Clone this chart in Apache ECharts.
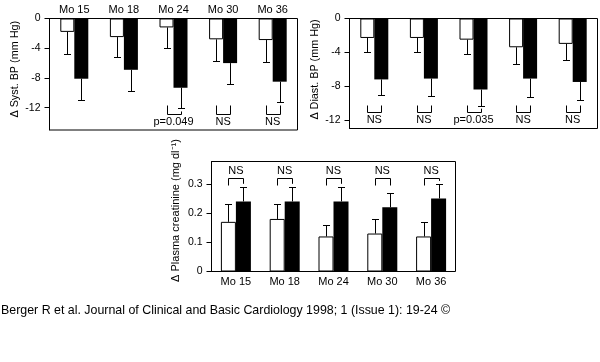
<!DOCTYPE html>
<html><head><meta charset="utf-8">
<script src="https://cdn.jsdelivr.net/npm/echarts@6/dist/echarts.min.js"></script>
<style>html,body{margin:0;padding:0;background:#fff}#c{width:600px;height:362px}</style>
</head><body><div id="c"></div>
<script>
const categories = ['Mo 15','Mo 18','Mo 24','Mo 30','Mo 36'];

const sysWhite    = [-1.8, -2.5, -1.2, -2.8, -2.9];
const sysWhiteErr = [-4.8, -5.2, -4.0, -5.7, -5.8];
const sysBlack    = [-8.1, -6.9, -9.3, -6.0, -8.5];
const sysBlackErr = [-10.9, -9.7, -12.1, -8.8, -11.3];
const sysSig      = ['', '', 'p=0.049', 'NS', 'NS'];
const sysTicks    = [0, -4, -8, -12];

const diaWhite    = [-2.3, -2.3, -2.5, -3.4, -3.0];
const diaWhiteErr = [-4.0, -4.0, -4.2, -5.4, -4.9];
const diaBlack    = [-7.2, -7.1, -8.4, -7.1, -7.5];
const diaBlackErr = [-9.0, -9.1, -10.3, -9.3, -9.6];
const diaSig      = ['NS', 'NS', 'p=0.035', 'NS', 'NS'];
const diaTicks    = [0, -4, -8, -12];

const creWhite    = [0.17, 0.18, 0.12, 0.13, 0.12];
const creWhiteErr = [0.23, 0.23, 0.16, 0.18, 0.17];
const creBlack    = [0.24, 0.24, 0.24, 0.22, 0.25];
const creBlackErr = [0.29, 0.29, 0.29, 0.27, 0.30];
const creSig      = ['NS', 'NS', 'NS', 'NS', 'NS'];
const creTicks    = [0, 0.1, 0.2, 0.3];

const footer = 'Berger R et al. Journal of Clinical and Basic Cardiology 1998; 1 (Issue 1): 19-24 \u00a9';

const FONT = 'Liberation Sans, Arial, Helvetica, sans-serif';

function errSeries(idx, vals, errs, side, bw) {
  return {
    type: 'custom', xAxisIndex: idx, yAxisIndex: idx, z: 5, silent: true,
    data: vals.map((v, i) => [i, v, errs[i]]),
    renderItem: (params, api) => {
      const p0 = api.coord([api.value(0), api.value(1)]);
      const p1 = api.coord([api.value(0), api.value(2)]);
      const x = Math.round(p0[0] + side * bw / 2) + 0.5;
      const yc = Math.round(p1[1]) + 0.5;
      const st = { stroke: '#000', lineWidth: 1 };
      return { type: 'group', children: [
        { type: 'line', shape: { x1: x, y1: p0[1], x2: x, y2: yc }, style: st },
        { type: 'line', shape: { x1: x - 3.5, y1: yc, x2: x + 3.5, y2: yc }, style: st }
      ]};
    }
  };
}

// dir = 1: bracket under bars, legs pointing up; dir = -1: bracket above bars, legs pointing down
function sigSeries(idx, labels, level, dir, wErr, bErr, bw, legLen, textOff) {
  return {
    type: 'custom', xAxisIndex: idx, yAxisIndex: idx, z: 6, silent: true,
    data: labels.map((l, i) => [i, level]),
    renderItem: (params, api) => {
      const i = params.dataIndex;
      const lab = labels[i];
      if (!lab) return null;
      const c = api.coord([i, level]);
      const y = Math.round(c[1]) + 0.5;
      const xw = Math.round(c[0] - bw / 2) + 0.5;
      const xb = Math.round(c[0] + bw / 2) + 0.5;
      const ew = api.coord([i, wErr[i]])[1];
      const eb = api.coord([i, bErr[i]])[1];
      let tw, tb;
      if (dir === 1) {
        tw = Math.max(y - legLen, ew + 3);
        tb = Math.max(y - legLen, eb + 3);
      } else {
        tw = Math.min(y + legLen, ew - 3);
        tb = Math.min(y + legLen, eb - 3);
      }
      const st = { stroke: '#000', lineWidth: 1 };
      return { type: 'group', children: [
        { type: 'line', shape: { x1: xw, y1: y, x2: xb, y2: y }, style: st },
        { type: 'line', shape: { x1: xw, y1: y, x2: xw, y2: tw }, style: st },
        { type: 'line', shape: { x1: xb, y1: y, x2: xb, y2: tb }, style: st },
        { type: 'text', x: c[0], y: y + dir * textOff,
          style: { text: lab, align: 'center', verticalAlign: 'middle',
                   fill: '#000', fontSize: 11, fontFamily: FONT } }
      ]};
    }
  };
}

function yAx(idx, min, max, ticks, name, gap, nameSize, shiftUp) {
  return {
    type: 'value', gridIndex: idx, min: min, max: max,
    name: name, nameLocation: 'middle', nameGap: gap, nameRotate: 90,
    nameTextStyle: { fontSize: nameSize, color: '#000', fontFamily: FONT, padding: [0, 0, 0, shiftUp * 2] },
    axisLine: { show: true, lineStyle: { color: '#000', width: 1 } },
    axisTick: { show: true, length: 5, customValues: ticks, lineStyle: { color: '#000' } },
    axisLabel: { customValues: ticks, margin: 9, fontSize: 10.5, color: '#000', fontFamily: FONT },
    splitLine: { show: false }
  };
}

function xAx(idx, pos, showLabel, margin) {
  return {
    type: 'category', gridIndex: idx, data: categories, position: pos,
    axisLine: { show: false, onZero: false }, axisTick: { show: false },
    axisLabel: { show: showLabel, margin: margin, fontSize: 11, color: '#000', fontFamily: FONT },
    splitLine: { show: false }
  };
}

function bars(idx, white, black, bw) {
  return [
    { type: 'bar', xAxisIndex: idx, yAxisIndex: idx, data: white, barWidth: bw, barGap: '0%',
      itemStyle: { color: '#fff', borderColor: '#000', borderWidth: 1 }, silent: true },
    { type: 'bar', xAxisIndex: idx, yAxisIndex: idx, data: black, barWidth: bw, barGap: '0%',
      itemStyle: { color: '#000' }, silent: true }
  ];
}

const chart = echarts.init(document.getElementById('c'));
const gridStyle = { show: true, borderColor: '#000', borderWidth: 1, backgroundColor: 'transparent' };
chart.setOption({
  animation: false,
  backgroundColor: '#fff',
  textStyle: { fontFamily: FONT },
  title: { text: footer, left: 1, top: 305, padding: 0,
           textStyle: { fontSize: 12.4, fontWeight: 'normal', color: '#000', fontFamily: FONT } },
  grid: [
    Object.assign({ left: 49.5, top: 18.5, width: 248, height: 111.5 }, gridStyle),
    Object.assign({ left: 349.5, top: 18.5, width: 248, height: 110 }, gridStyle),
    Object.assign({ left: 211.5, top: 161.5, width: 244, height: 110 }, gridStyle)
  ],
  xAxis: [xAx(0, 'top', true, 3), xAx(1, 'top', false, 3), xAx(2, 'bottom', true, 5)],
  yAxis: [
    yAx(0, -15, 0, sysTicks, 'Δ Syst. BP (mm Hg)', 29, 10.8, 5),
    yAx(1, -13, 0, diaTicks, 'Δ Diast. BP (mm Hg)', 29, 10.8, 4),
    yAx(2, 0, 0.3767, creTicks, 'Δ Plasma creatinine (mg dl\u207B\u00B9)', 30, 11, 6)
  ],
  series: [].concat(
    bars(0, sysWhite, sysBlack, 14),
    bars(1, diaWhite, diaBlack, 14),
    bars(2, creWhite, creBlack, 15),
    [
      errSeries(0, sysWhite, sysWhiteErr, -1, 14),
      errSeries(0, sysBlack, sysBlackErr, 1, 14),
      errSeries(1, diaWhite, diaWhiteErr, -1, 14),
      errSeries(1, diaBlack, diaBlackErr, 1, 14),
      errSeries(2, creWhite, creWhiteErr, -1, 15),
      errSeries(2, creBlack, creBlackErr, 1, 15),
      sigSeries(0, sysSig, -12.85, 1, sysWhiteErr, sysBlackErr, 14, 9, 7.7),
      sigSeries(1, diaSig, -11.05, 1, diaWhiteErr, diaBlackErr, 14, 7, 7.3),
      sigSeries(2, creSig, 0.319, -1, creWhiteErr, creBlackErr, 15, 7, 7.5)
    ]
  )
});
</script>
</body></html>
